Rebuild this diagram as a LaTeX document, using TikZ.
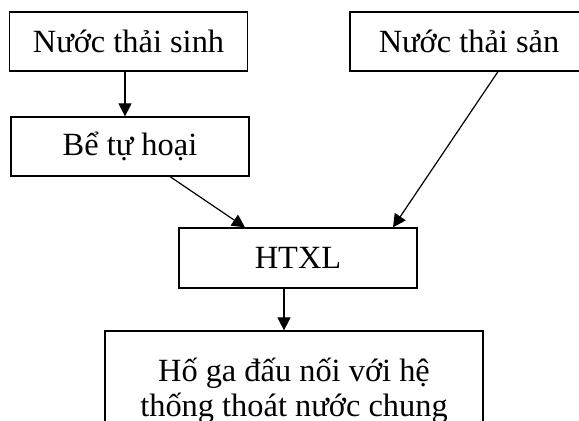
\documentclass[tikz,border=0pt]{standalone}
\usepackage{fontspec}
\setmainfont{Liberation Serif}
\usepackage{tikz}
\usetikzlibrary{arrows.meta, positioning, calc}

\begin{document}
\begin{tikzpicture}[x=0.5pt, y=-0.5pt,
    hop/.style={draw, line width=0.6pt, minimum width=119pt, minimum height=29.5pt,
                inner sep=0pt, align=center, font=\fontsize{16.2}{17.5}\selectfont},
    muiten/.style={line width=0.6pt, -{Triangle[width=6.5pt, length=6.5pt]}}]
  \useasboundingbox (0,0) rectangle (579,421);
  \clip (0,0) rectangle (579,421);

  % Cac hop
  \node[hop] (sinh) at (128.5,41.5) {Nước thải sinh};
  \node[hop] (san)  at (469,41.5)   {Nước thải sản};
  \node[hop] (tuhoai) at (130,146.5) {Bể tự hoại};
  \node[hop, minimum height=30pt] (htxl) at (298,258) {HTXL};
  \node[hop, minimum width=189pt, minimum height=60pt] (hoga) at (294,391)
    {Hố ga đấu nối với hệ\\thống thoát nước chung};

  % Mui ten
  \draw[muiten] ($(sinh.south)+(-3.5,0)$) -- ($(tuhoai.north)+(-5,0)$);
  \draw[muiten] ($(tuhoai.south)+(40,0)$) -- ($(htxl.north)+(-53,0)$);
  \draw[muiten] ($(san.south)+(29,0)$) -- ($(htxl.north)+(95,0)$);
  \draw[muiten] ($(htxl.south)+(-14,0)$) -- ($(hoga.north)+(-10,0)$);
\end{tikzpicture}
\end{document}
